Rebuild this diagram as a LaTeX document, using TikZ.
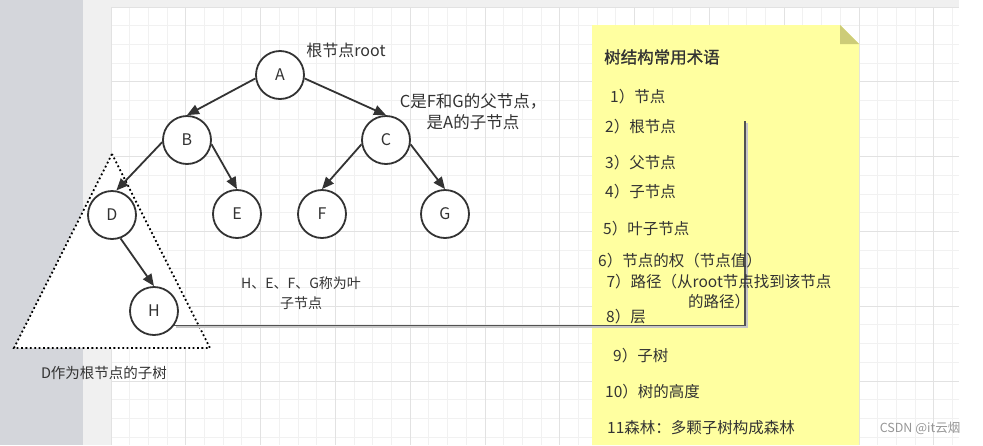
\documentclass[tikz,border=0pt]{standalone}
\usepackage{fontspec}
\setmainfont{Noto Sans CJK SC}
\newfontfamily\titlefont[FakeBold=1.2]{Noto Sans CJK SC}
\usepackage{xcolor}
\usetikzlibrary{arrows.meta}

\definecolor{ink}{RGB}{51,51,51}
\definecolor{sidebar}{RGB}{212,214,219}
\definecolor{paper}{RGB}{240,240,240}
\definecolor{gridminor}{RGB}{241,241,241}
\definecolor{gridmajor}{RGB}{226,226,226}
\definecolor{notefill}{RGB}{255,255,160}
\definecolor{notefold}{RGB}{205,204,120}
\definecolor{wmark}{RGB}{150,150,150}

\begin{document}
\begin{tikzpicture}[x=1pt, y=-1pt, >={Triangle[length=12pt,width=10pt]},
    treenode/.style={circle, draw=ink, line width=1.8pt, fill=white, minimum size=48pt, inner sep=0pt, text=ink, font=\fontsize{16}{18}\selectfont},
    link/.style={->, draw=ink, line width=1.8pt},
    remark/.style={text=ink, align=center, inner sep=0pt, font=\fontsize{14}{20}\selectfont},
    term/.style={text=ink, anchor=west, inner sep=0pt, font=\fontsize{15.5}{20}\selectfont}]

    % page and grid
    \fill[white] (0,0) rectangle (983,445);
    \fill[sidebar] (0,0) rectangle (83,445);
    \fill[paper] (83,0) rectangle (959,7);
    \fill[paper] (83,7) rectangle (111,445);
    \begin{scope}
        \clip (111,7) rectangle (959,445);
        \foreach \i [evaluate=\i as \gx using 111+\i*18.7] in {0,...,45}
            \draw[gridminor, line width=1pt] (\gx,7) -- (\gx,445);
        \foreach \i [evaluate=\i as \gy using 7+\i*18.7] in {0,...,23}
            \draw[gridminor, line width=1pt] (111,\gy) -- (959,\gy);
        \foreach \i [evaluate=\i as \gx using 111+\i*74.8] in {0,...,11}
            \draw[gridmajor, line width=1pt] (\gx,7) -- (\gx,445);
        \foreach \i [evaluate=\i as \gy using 7+\i*74.8] in {0,...,5}
            \draw[gridmajor, line width=1pt] (111,\gy) -- (959,\gy);
    \end{scope}
    \useasboundingbox (0,0) rectangle (983,445);

    % subtree of D
    \draw[black, line width=1.8pt, dash pattern=on 1.8pt off 2.6pt, fill=white]
        (112,154) -- (14,348) -- (210,348) -- cycle;

    % note
    \fill[notefill] (592,25) -- (840,25) -- (859,44) -- (859,445) -- (592,445) -- cycle;
    \fill[notefold] (840,25) -- (840,44) -- (859,44) -- cycle;

    \node[treenode] (A) at (280,75) {A};
    \node[treenode] (B) at (187,140) {B};
    \node[treenode] (C) at (386,140) {C};
    \node[treenode] (D) at (112,215) {D};
    \node[treenode] (E) at (237,214) {E};
    \node[treenode] (F) at (322,214) {F};
    \node[treenode] (G) at (445,214) {G};
    \node[treenode] (H) at (154,311) {H};

    \draw[link] (A.188) -- (B.north);
    \draw[link] (A.-8) -- (C.north);
    \draw[link] (B.185) -- (D.80);
    \draw[link] (B.-10) -- (E.north);
    \draw[link] (C.190) -- (F.north);
    \draw[link] (C.-10) -- (G.north);
    \draw[link] (D.-70) -- (H.north);

    \coordinate (lineend) at (745,121);
    \draw[black!22, line width=2.5pt] ([shift={(1.5,1.5)}]H.-35) -| ([shift={(1.5,1.5)}]lineend);
    \draw[ink!85, line width=1.3pt] (H.-35) -| (lineend);

    \node[remark, font=\fontsize{16}{20}\selectfont] (rootnote) at (346,50) {根节点root};
    \node[remark, font=\fontsize{16.5}{21}\selectfont] (cnote) at (473,112) {C是F和G的父节点，\\是A的子节点};
    \node[remark] (leafnote) at (301,293) {H、E、F、G称为叶\\子节点};
    \node[remark, font=\fontsize{14.5}{18}\selectfont] (subnote) at (104,373) {D作为根节点的子树};

    \node[term, font=\titlefont\fontsize{16.5}{18}\selectfont] (title) at (604,57) {树结构常用术语};
    \foreach \n/\x/\y/\t in {1/610/97/1）节点, 2/605/127/2）根节点, 3/605/163/3）父节点,
        4/605/192/4）子节点, 5/603/229/5）叶子节点, 6/598/261/6）节点的权（节点值）,
        8/606/317/8）层, 9/613/356/9）子树, 10/605/392/10）树的高度, 11/607/428/11森林：多颗子树构成森林}
        \node[term] (term\n) at (\x,\y) {\t};
    \node[term, anchor=center, align=center] (term7) at (719,292) {7）路径（从root节点找到该节点\\的路径）};

    \node[text=wmark, inner sep=0pt, font=\fontsize{12.5}{14}\selectfont] (csdn) at (920,428) {CSDN @it云烟};
\end{tikzpicture}
\end{document}
